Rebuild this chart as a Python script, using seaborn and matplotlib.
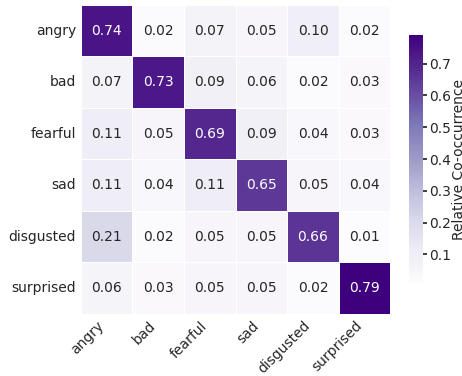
import numpy as np
import pandas as pd
import matplotlib
matplotlib.use("Agg")
import matplotlib.pyplot as plt
import seaborn as sns

labels = ["angry", "bad", "fearful", "sad", "disgusted", "surprised"]
row_angry = [0.74, 0.02, 0.07, 0.05, 0.10, 0.02]
row_bad = [0.07, 0.73, 0.09, 0.06, 0.02, 0.03]
row_fearful = [0.11, 0.05, 0.69, 0.09, 0.04, 0.03]
row_sad = [0.11, 0.04, 0.11, 0.65, 0.05, 0.04]
row_disgusted = [0.21, 0.02, 0.05, 0.05, 0.66, 0.01]
row_surprised = [0.06, 0.03, 0.05, 0.05, 0.02, 0.79]

df = pd.DataFrame([row_angry, row_bad, row_fearful, row_sad, row_disgusted, row_surprised],
                  index=labels, columns=labels)

sns.set_theme(style="white", font_scale=1.0)
plt.rcParams['font.family'] = ['DejaVu Sans']
fig = plt.figure(figsize=(4.62, 3.76), dpi=100)
ax = fig.add_axes([0.175, 0.165, 0.670, 0.822])
cax = fig.add_axes([0.885, 0.247, 0.031, 0.66])
sns.heatmap(df, ax=ax, cbar_ax=cax, cmap="Purples", annot=True, fmt=".2f",
            linewidths=0.5, linecolor="white",
            annot_kws={"size": 10},
            cbar_kws={"label": "Relative Co-occurrence"})
ax.set_xticklabels(labels, rotation=45, ha="right", fontsize=10)
ax.set_yticklabels(labels, rotation=0, fontsize=10)
ax.tick_params(length=0)
cax.tick_params(labelsize=10, length=3, pad=1)
cax.yaxis.label.set_size(10)
cax.yaxis.labelpad = 1
cax.set_yticks([0.1, 0.2, 0.3, 0.4, 0.5, 0.6, 0.7])
for s in cax.spines.values():
    s.set_visible(False)
fig.savefig("out.png", dpi=100)
